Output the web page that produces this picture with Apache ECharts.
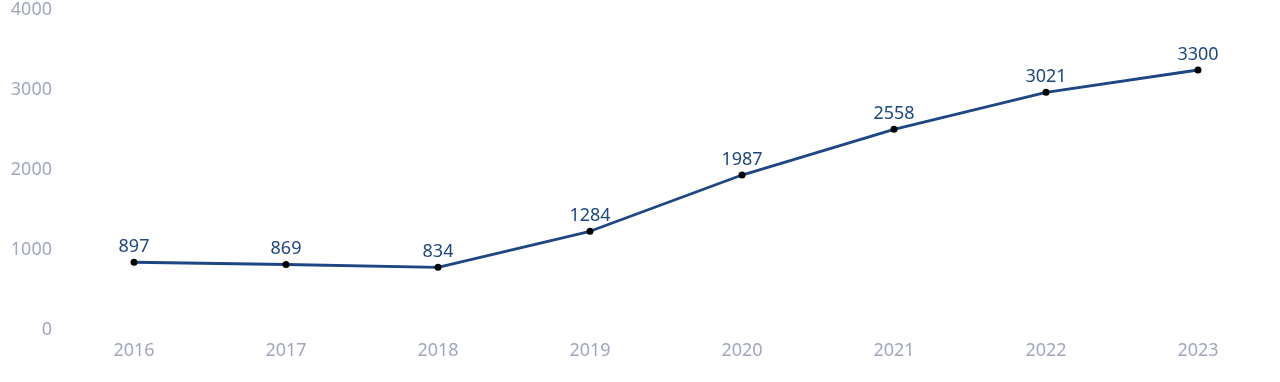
<!DOCTYPE html>
<html><head><meta charset="utf-8">
<script src="https://cdn.jsdelivr.net/npm/echarts@6/dist/echarts.min.js"></script>
<style>html,body{margin:0;padding:0;background:#fff}#c{width:1280px;height:382px}</style>
</head><body><div id="c"></div>
<script>
const categories = ['2016','2017','2018','2019','2020','2021','2022','2023'];
const values = [897, 869, 834, 1284, 1987, 2558, 3021, 3300];
const yTicks = { min: 0, max: 4000, interval: 1000 };
const chart = echarts.init(document.getElementById('c'));
chart.setOption({
  animation: false,
  grid: { left: 58, right: 6, top: 14, bottom: 48 },
  xAxis: {
    type: 'category', data: categories, boundaryGap: true,
    axisLine: { show: false }, axisTick: { show: false },
    axisLabel: { color: '#a3a6bf', fontSize: 18, fontFamily: 'Noto Sans', margin: 8 }
  },
  yAxis: {
    type: 'value', min: yTicks.min, max: yTicks.max, interval: yTicks.interval,
    splitLine: { show: false }, axisLine: { show: false }, axisTick: { show: false },
    axisLabel: { color: '#a3a6bf', fontSize: 18, fontFamily: 'Noto Sans', margin: 6,
      verticalAlign: 'bottom', lineHeight: 8,
      formatter: v => String(v) }
  },
  series: [{
    type: 'line', data: values,
    symbol: 'circle', symbolSize: 7,
    itemStyle: { color: '#000' },
    lineStyle: { color: '#1d4683', width: 2.8 },
    label: { show: true, position: 'top', distance: 3, color: '#1d4683', fontSize: 18, fontFamily: 'Noto Sans' }
  }]
});
</script></body></html>
